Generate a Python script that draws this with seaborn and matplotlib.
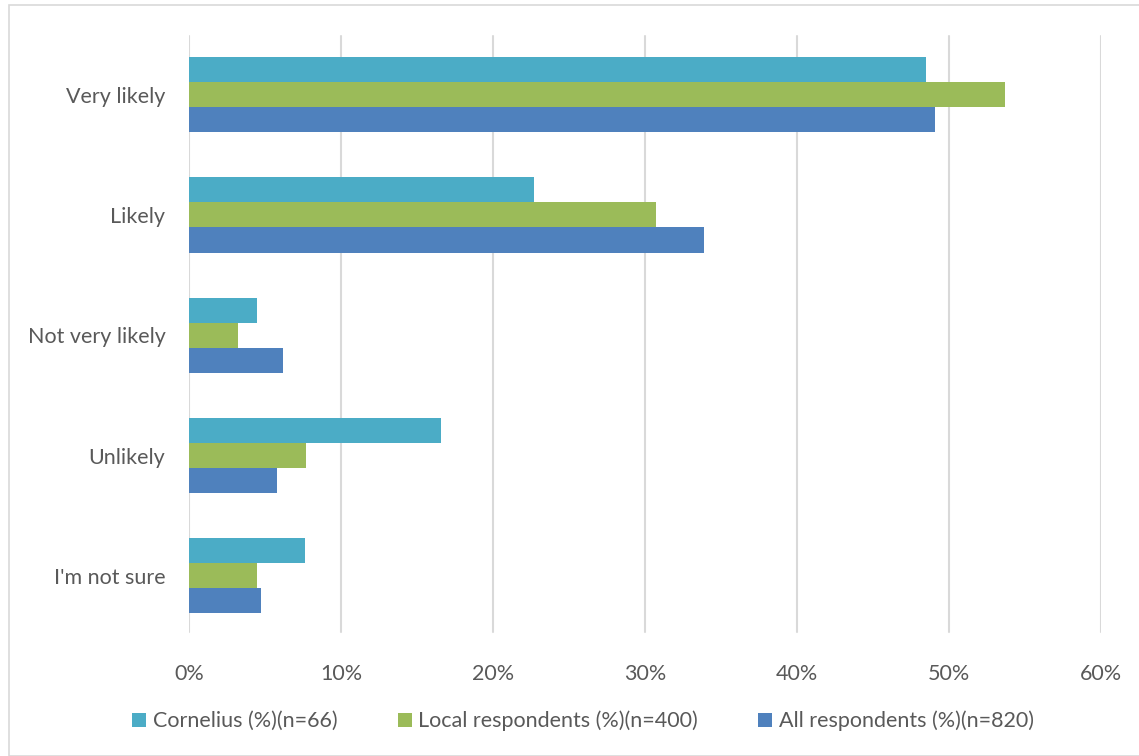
import matplotlib
matplotlib.use("Agg")
import matplotlib.pyplot as plt
import matplotlib.patches as mpatches
import seaborn as sns
import pandas as pd

categories = ["Very likely", "Likely", "Not very likely", "Unlikely", "I'm not sure"]
series_names = ["Cornelius (%)(n=66)", "Local respondents (%)(n=400)", "All respondents (%)(n=820)"]
cornelius = [48.5, 22.7, 4.5, 16.6, 7.6]
local = [53.7, 30.7, 3.2, 7.7, 4.5]
all_resp = [49.1, 33.9, 6.2, 5.8, 4.75]
x_ticks = [0, 10, 20, 30, 40, 50, 60]
x_tick_labels = ["0%", "10%", "20%", "30%", "40%", "50%", "60%"]
colors = ["#4BACC6", "#9BBB59", "#4F81BD"]

rows = []
for name, vals in zip(series_names, [cornelius, local, all_resp]):
    for cat, v in zip(categories, vals):
        rows.append({"category": cat, "series": name, "value": v})
df = pd.DataFrame(rows)

sns.set_theme(style="white")
plt.rcParams["font.family"] = ["Lato", "DejaVu Sans"]
text_color = "#595959"
grid_color = "#D9D9D9"
fs = 15.5

W, H = 1139, 756
ax_top, ax_bottom = 34.5, 636.0
fig = plt.figure(figsize=(W / 100, H / 100), dpi=100)
ax = fig.add_axes([189 / W, 1 - ax_bottom / H, (1101 - 189) / W, (ax_bottom - ax_top) / H])

sns.barplot(data=df, y="category", x="value", hue="series", order=categories,
            hue_order=series_names, palette=colors, orient="h", width=0.625,
            saturation=1, ax=ax, legend=True, edgecolor="none", linewidth=0)

ax.set_xlim(0, 60)
ax.set_xticks(x_ticks)
ax.set_xticklabels(x_tick_labels)
ax.set_xlabel("")
ax.set_ylabel("")
span = ax_bottom - ax_top
for x in x_ticks:
    ax.axvline(x, ymin=(ax_bottom - 632) / span, ymax=1 - (36 - ax_top) / span,
               color=grid_color, lw=1.5, zorder=0)
for s in ax.spines.values():
    s.set_visible(False)
ax.tick_params(axis="x", length=0, pad=20, labelsize=fs, labelcolor=text_color)
ax.tick_params(axis="y", length=0, pad=17, labelsize=fs, labelcolor=text_color)

handles, labels = ax.get_legend_handles_labels()
ax.legend_.remove()
fig.legend(handles, labels, loc="center", bbox_to_anchor=(583 / W, 1 - 721 / H),
           ncol=3, frameon=False, fontsize=fs, labelcolor=text_color,
           handlelength=0.65, handleheight=0.65, handletextpad=0.3, columnspacing=2.8)

fig.patches.append(mpatches.Rectangle((9 / W, 0), 1.5, 1 - 5 / H,
                                      transform=fig.transFigure, fill=False,
                                      edgecolor=grid_color, lw=1.2))

fig.savefig("out.png", dpi=100)
